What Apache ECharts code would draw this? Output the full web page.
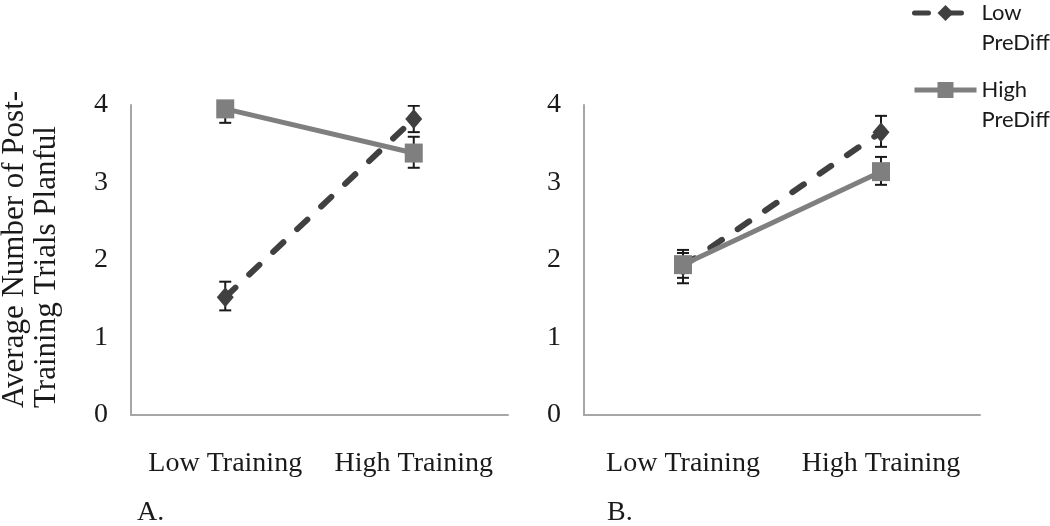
<!DOCTYPE html>
<html>
<head>
<meta charset="utf-8">
<script src="https://cdn.jsdelivr.net/npm/echarts@6/dist/echarts.min.js"></script>
<style>
html,body{margin:0;padding:0;background:#fff;}
#chart{width:1050px;height:526px;}
</style>
</head>
<body>
<div id="chart"></div>
<script>
// ---- data ----
const categories = ['Low Training', 'High Training'];
const seriesNames = ['Low PreDiff', 'High PreDiff'];
const yTicks = [0, 1, 2, 3, 4];

// Panel A
const lowPreDiffA = [1.52, 3.82];
const lowPreDiffA_lo = [1.35, 3.65];
const lowPreDiffA_hi = [1.72, 3.99];
const highPreDiffA = [3.95, 3.38];
const highPreDiffA_lo = [3.77, 3.19];
const highPreDiffA_hi = [4.13, 3.59];

// Panel B
const lowPreDiffB = [1.92, 3.65];
const lowPreDiffB_lo = [1.70, 3.46];
const lowPreDiffB_hi = [2.13, 3.86];
const highPreDiffB = [1.94, 3.14];
const highPreDiffB_lo = [1.77, 2.97];
const highPreDiffB_hi = [2.09, 3.33];

const panelLabels = ['A.', 'B.'];
const yTitle = 'Average Number of Post-\nTraining Trials Planful';

// ---- styles ----
const serif = '"Liberation Serif", "DejaVu Serif", serif';
const darkCol = '#404040';
const grayCol = '#7f7f7f';
const errCol = '#1a1a1a';

function errData(lo, hi) {
  return categories.map((c, i) => [i, lo[i], hi[i]]);
}
function errSeries(name, idx, lo, hi) {
  return {
    type: 'custom', name: name, xAxisIndex: idx, yAxisIndex: idx,
    clip: true, z: 1,
    encode: {x: 0, y: [1, 2]},
    data: errData(lo, hi),
    renderItem: function (params, api) {
      const x = api.value(0);
      const p1 = api.coord([x, api.value(1)]);
      const p2 = api.coord([x, api.value(2)]);
      const w = 6;
      const st = {stroke: errCol, lineWidth: 2};
      return {type: 'group', children: [
        {type: 'line', shape: {x1: p1[0], y1: p1[1], x2: p2[0], y2: p2[1]}, style: st},
        {type: 'line', shape: {x1: p1[0] - w, y1: p1[1], x2: p1[0] + w, y2: p1[1]}, style: st},
        {type: 'line', shape: {x1: p2[0] - w, y1: p2[1], x2: p2[0] + w, y2: p2[1]}, style: st}
      ]};
    }
  };
}
function lowSeries(idx, data) {
  return {
    type: 'line', name: seriesNames[0], xAxisIndex: idx, yAxisIndex: idx,
    data: data, z: 3,
    symbol: 'diamond', symbolSize: [17, 20],
    itemStyle: {color: darkCol},
    lineStyle: {color: darkCol, width: 6, type: [14, 19], cap: 'round'},
    emphasis: {disabled: true}
  };
}
function highSeries(idx, data) {
  return {
    type: 'line', name: seriesNames[1], xAxisIndex: idx, yAxisIndex: idx,
    data: data, z: 4,
    symbol: 'rect', symbolSize: [18, 19],
    itemStyle: {color: grayCol},
    lineStyle: {color: grayCol, width: 5},
    emphasis: {disabled: true}
  };
}
function xAxis(idx) {
  return {
    type: 'category', gridIndex: idx, data: categories, boundaryGap: true,
    axisLine: {lineStyle: {color: '#a6a6a6', width: 2}},
    axisTick: {show: false},
    axisLabel: {fontFamily: serif, fontSize: 28, color: '#1a1a1a', margin: 35, interval: 0}
  };
}
function yAxis(idx) {
  return {
    type: 'value', gridIndex: idx, min: yTicks[0], max: yTicks[yTicks.length - 1], interval: 1,
    axisLine: {show: true, lineStyle: {color: '#a6a6a6', width: 2}},
    axisTick: {show: false},
    splitLine: {show: false},
    axisLabel: {fontFamily: serif, fontSize: 28, color: '#1a1a1a', margin: 23, padding: [6, 0, 0, 0]}
  };
}

const chart = echarts.init(document.getElementById('chart'), null, {renderer: 'canvas'});
chart.setOption({
  animation: false,
  backgroundColor: '#fff',
  grid: [
    {left: 131, top: 105, width: 377, height: 310},
    {left: 584, top: 105, width: 396, height: 310}
  ],
  xAxis: [xAxis(0), xAxis(1)],
  yAxis: [yAxis(0), yAxis(1)],
  legend: {
    data: seriesNames,
    orient: 'vertical',
    left: 907, top: -37,
    itemWidth: 62, itemHeight: 20, itemGap: -13,
    lineStyle: {width: 5},
    formatter: function (n) { return '\u200B\n' + n.replace(' ', '\n'); },
    textStyle: {fontFamily: 'Lato, "Open Sans", sans-serif', fontSize: 22, color: '#1a1a1a', lineHeight: 30},
    selectedMode: false
  },
  graphic: [
    {type: 'text', x: 31, y: 408, rotation: Math.PI / 2,
     style: {text: yTitle, font: '31px ' + serif, fill: '#1a1a1a', align: 'left', verticalAlign: 'middle', lineHeight: 32}},
    {type: 'text', x: 137, y: 513, style: {text: panelLabels[0], font: '28px ' + serif, fill: '#1a1a1a', align: 'left', verticalAlign: 'middle'}},
    {type: 'text', x: 607, y: 513, style: {text: panelLabels[1], font: '28px ' + serif, fill: '#1a1a1a', align: 'left', verticalAlign: 'middle'}}
  ],
  series: [
    errSeries('errLowA', 0, lowPreDiffA_lo, lowPreDiffA_hi),
    errSeries('errHighA', 0, highPreDiffA_lo, highPreDiffA_hi),
    errSeries('errLowB', 1, lowPreDiffB_lo, lowPreDiffB_hi),
    errSeries('errHighB', 1, highPreDiffB_lo, highPreDiffB_hi),
    lowSeries(0, lowPreDiffA),
    highSeries(0, highPreDiffA),
    lowSeries(1, lowPreDiffB),
    highSeries(1, highPreDiffB)
  ]
});
</script>
</body>
</html>
